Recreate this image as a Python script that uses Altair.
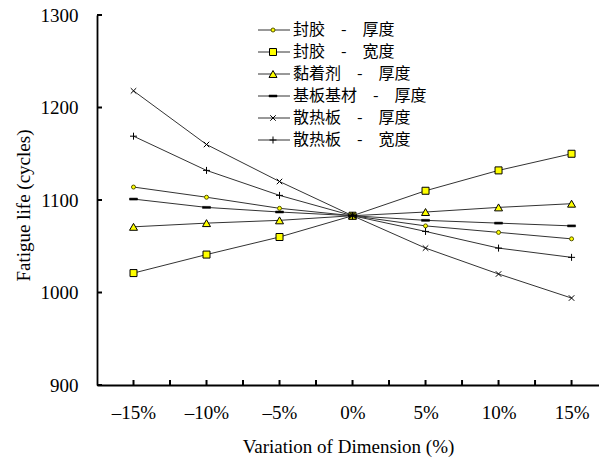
import altair as alt
import pandas as pd

# ---- data ----
variation = [-15, -10, -5, 0, 5, 10, 15]
series_names = ["封胶\u3000-\u3000厚度", "封胶\u3000-\u3000宽度", "黏着剂\u3000-\u3000厚度",
                "基板基材\u3000-\u3000厚度", "散热板\u3000-\u3000厚度", "散热板\u3000-\u3000宽度"]
fengjiao_thickness = [1114, 1103, 1091, 1083, 1072, 1065, 1058]
fengjiao_width = [1021, 1041, 1060, 1083, 1110, 1132, 1150]
adhesive_thickness = [1071, 1075, 1078, 1083, 1087, 1092, 1096]
substrate_thickness = [1101, 1092, 1087, 1083, 1078, 1075, 1072]
heatsink_thickness = [1218, 1160, 1120, 1083, 1048, 1020, 994]
heatsink_width = [1169, 1132, 1105, 1083, 1066, 1048, 1038]
x_tick_values = [-15, -12.5, -10, -7.5, -5, -2.5, 0, 2.5, 5, 7.5, 10, 12.5, 15]
x_label_values = [-15, -10, -5, 0, 5, 10, 15]
y_tick_values = [900, 1000, 1100, 1200, 1300]

all_series = [fengjiao_thickness, fengjiao_width, adhesive_thickness,
              substrate_thickness, heatsink_thickness, heatsink_width]
rows = []
for name, vals in zip(series_names, all_series):
    for v, life in zip(variation, vals):
        rows.append({"series": name, "variation": v, "life": life})
df = pd.DataFrame(rows)
legend_df = pd.DataFrame({"series": series_names})
xtick_df = pd.DataFrame({"tick_x": x_tick_values})
ytick_df = pd.DataFrame({"tick_y": y_tick_values})

W, H = 502, 370

# marker styles
YEL = "#ffff00"
marker_styles = [
    dict(shape="circle", filled=True, fill=YEL, stroke="#555500", size=16, strokeWidth=1),
    dict(shape="square", filled=True, fill=YEL, stroke="#000000", size=49, strokeWidth=1),
    dict(shape="triangle-up", filled=True, fill=YEL, stroke="#000000", size=64, strokeWidth=1),
    dict(shape="M-1,-0.25L1,-0.25L1,0.25L-1,0.25Z", filled=True, fill="#000000",
         stroke="#000000", size=64, strokeWidth=0.5),
    dict(shape="M-1,-1L1,1M-1,1L1,-1", filled=False, stroke="#000000", size=30, strokeWidth=1),
    dict(shape="M-1,0L1,0M0,-1L0,1", filled=False, stroke="#000000", size=49, strokeWidth=1),
]

x_scale = alt.Scale(domain=[-17.5, 16.88], nice=False, zero=False)
y_scale = alt.Scale(domain=[900, 1300], nice=False, zero=False)

# main axes: labels + titles, no ticks (inward ticks drawn as rules below)
x_main = alt.X("variation:Q", scale=x_scale,
               axis=alt.Axis(orient="bottom", values=x_label_values,
                             labelExpr="datum.value < 0 ? '\u2013' + (-datum.value) + '%' : datum.value + '%'",
                             ticks=False, tickSize=0, labelPadding=18,
                             title="Variation of Dimension (%)",
                             titleX=251, titleY=67, titleAlign="center",
                             titleBaseline="alphabetic"))
y_main = alt.Y("life:Q", scale=y_scale,
               axis=alt.Axis(orient="left", values=y_tick_values, format="d",
                             ticks=False, tickSize=0, labelPadding=19,
                             title="Fatigue life (cycles)",
                             titleX=-74, titleY=190, titleAlign="center",
                             titleBaseline="middle", titleAngle=270))
x_plain = alt.X("variation:Q", scale=x_scale, axis=None)
y_plain = alt.Y("life:Q", scale=y_scale, axis=None)

lines = alt.Chart(df).mark_line(color="#333333", strokeWidth=1).encode(
    x=x_main, y=y_main, detail="series:N")

point_layers = []
for name, st in zip(series_names, marker_styles):
    point_layers.append(
        alt.Chart(df).transform_filter(alt.datum.series == name)
        .mark_point(opacity=1, **st).encode(x=x_main, y=y_main))

data_layer = alt.layer(lines, *point_layers)

# inward tick marks: own layer with its own (identical) scales, no axes
xtick_rules = alt.Chart(xtick_df).mark_rule(color="#000000", strokeWidth=2).encode(
    x=alt.X("tick_x:Q", scale=x_scale, axis=None), y=alt.value(H), y2=alt.value(H - 5))
ytick_rules = alt.Chart(ytick_df).mark_rule(color="#000000", strokeWidth=2).encode(
    y=alt.Y("tick_y:Q", scale=y_scale, axis=None), x=alt.value(0), x2=alt.value(5))
tick_layer = alt.layer(xtick_rules, ytick_rules)

leg_y = alt.Y("series:N",
              scale=alt.Scale(type="point", domain=series_names, range=[15, 125], padding=0),
              axis=None)
leg_rule = alt.Chart(legend_df).mark_rule(color="#333333", strokeWidth=1).encode(
    x=alt.value(161), x2=alt.value(193), y=leg_y)
leg_points = []
for name, st in zip(series_names, marker_styles):
    leg_points.append(
        alt.Chart(legend_df).transform_filter(alt.datum.series == name)
        .mark_point(opacity=1, **st).encode(x=alt.value(176), y=leg_y))
leg_text = alt.Chart(legend_df).mark_text(
    align="left", baseline="middle", font="Noto Sans CJK SC", fontSize=16,
    color="#000000").encode(x=alt.value(196), y=leg_y, text="series:N")
legend_layer = alt.layer(leg_rule, *leg_points, leg_text)

chart = alt.layer(data_layer, tick_layer, legend_layer).resolve_scale(
    x="independent", y="independent").properties(
    width=W, height=H,
    background="#ffffff",
    autosize=alt.AutoSizeParams(type="none"),
    padding={"left": 97, "top": 15, "right": 0, "bottom": 73},
).configure_view(stroke="transparent").configure_axis(
    grid=False,
    domainColor="#000000", domainWidth=1.8,
    labelFont="Liberation Serif", labelFontSize=19, labelColor="#000000",
    titleFont="Liberation Serif", titleFontSize=19, titleColor="#000000",
    titleFontWeight="normal",
)

chart.save("out.html", embed_options={"renderer": "svg", "actions": False})
